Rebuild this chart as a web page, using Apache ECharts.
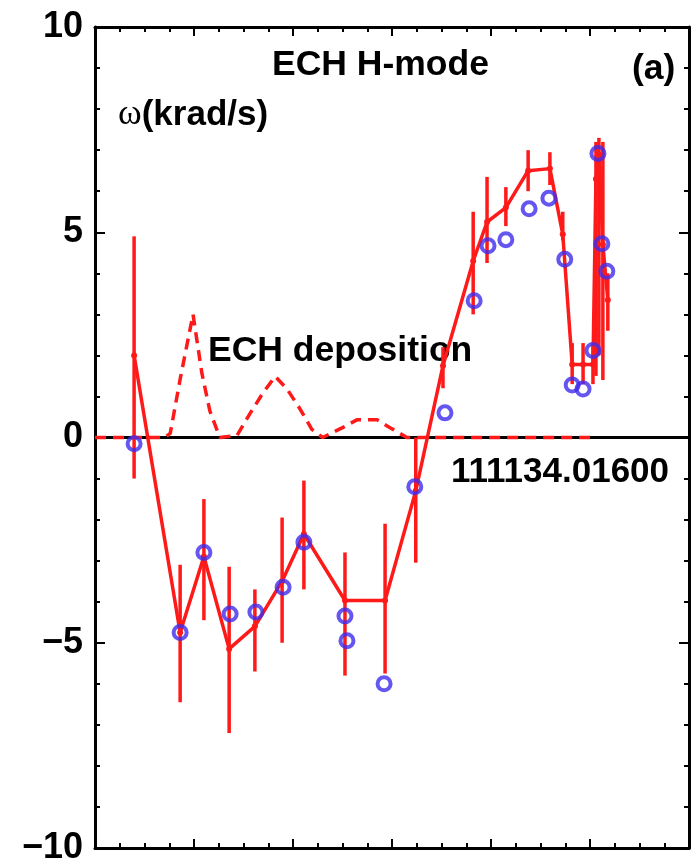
<!DOCTYPE html>
<html>
<head>
<meta charset="utf-8">
<script src="https://cdn.jsdelivr.net/npm/echarts@6/dist/echarts.min.js"></script>
<style>
html,body{margin:0;padding:0;background:#fff;}
#chart{width:695px;height:866px;}
</style>
</head>
<body>
<div id="chart"></div>
<script>
// ---- data ----
var yTicks = [-10, -5, 0, 5, 10];

// measured rotation (red, with error bars)
var redX  = [0.079, 0.172, 0.220, 0.271, 0.323, 0.378, 0.422, 0.505, 0.586, 0.648, 0.703, 0.764, 0.792, 0.830, 0.875, 0.919, 0.945, 0.964, 0.986, 1.006, 1.012, 1.018, 1.026, 1.036];
var redY  = [2.0, -4.75, -2.9, -5.15, -4.6, -3.5, -2.35, -3.97, -3.97, -1.3, 1.75, 4.3, 5.25, 5.6, 6.5, 6.55, 4.95, 1.78, 1.78, 1.78, 6.3, 6.9, 4.7, 3.35];
var redLo = [-1.0, -6.45, -4.45, -7.2, -5.7, -5.0, -3.7, -5.8, -5.75, -3.05, 1.2, 3.0, 4.25, 5.15, 6.0, 6.15, 4.8, 1.3, 1.3, 1.3, 1.5, 2.0, 1.4, 2.6];
var redHi = [4.9, -3.1, -1.5, -3.15, -3.7, -1.95, -1.05, -2.8, -2.1, 0.0, 2.2, 5.5, 6.35, 6.1, 7.0, 6.95, 5.5, 2.3, 2.3, 2.3, 7.2, 7.3, 7.2, 4.0];

// model (blue open circles)
var blueX = [0.079, 0.172, 0.220, 0.273, 0.325, 0.380, 0.422, 0.505, 0.509, 0.584, 0.646, 0.707, 0.766, 0.794, 0.830, 0.877, 0.917, 0.949, 0.964, 0.986, 1.006, 1.016, 1.024, 1.034];
var blueY = [-0.15, -4.75, -2.8, -4.3, -4.25, -3.65, -2.55, -4.35, -4.95, -6.0, -1.2, 0.6, 3.33, 4.67, 4.82, 5.57, 5.83, 4.34, 1.28, 1.18, 2.12, 6.92, 4.72, 4.05];

// ECH deposition profile (dashed)
var echX = [0, 0.141, 0.152, 0.172, 0.198, 0.216, 0.232, 0.252, 0.287, 0.313, 0.339, 0.364, 0.388, 0.414, 0.438, 0.46, 0.5, 0.529, 0.57, 0.596, 0.63, 1.0];
var echY = [0, 0, 0.1, 1.42, 3.0, 1.56, 0.65, 0, 0.05, 0.58, 1.08, 1.49, 1.18, 0.7, 0.2, 0, 0.24, 0.43, 0.43, 0.24, 0, 0];

var zeroX = [0, 1.2];
var zeroY = [0, 0];

// ---- build ----
function pairs(xs, ys){ return xs.map(function(x,i){ return [x, ys[i]]; }); }
var RED = '#ff1a1a', BLUE = '#3f2cec';
var FONT = "'Liberation Sans', Arial, Helvetica, sans-serif";

var xBase = {
  type: 'value', min: 0, max: 1.2, interval: 0.2,
  axisLine: { show: true, onZero: false, lineStyle: { color: '#000', width: 3 } },
  axisTick: { show: true, inside: true, length: 9, lineStyle: { color: '#000', width: 2 } },
  minorTick: { show: true, splitNumber: 4, length: 5, lineStyle: { color: '#000', width: 2 } },
  axisLabel: { show: false },
  splitLine: { show: false }
};
var yBase = {
  type: 'value', min: -10, max: 10, interval: 5,
  axisLine: { show: true, onZero: false, lineStyle: { color: '#000', width: 3 } },
  axisTick: { show: true, inside: true, length: 10, lineStyle: { color: '#000', width: 2 } },
  minorTick: { show: true, splitNumber: 5, length: 5, lineStyle: { color: '#000', width: 2 } },
  splitLine: { show: false }
};

var chart = echarts.init(document.getElementById('chart'), null, { renderer: 'canvas' });
chart.setOption({
  animation: false,
  backgroundColor: '#fff',
  grid: { left: 95, top: 27, width: 594, height: 830, containLabel: false },
  xAxis: [
    Object.assign({}, xBase, { position: 'bottom' }),
    Object.assign({}, xBase, { position: 'top' })
  ],
  yAxis: [
    Object.assign({}, yBase, {
      position: 'left',
      axisLabel: {
        show: true, margin: 12, color: '#000',
        fontFamily: FONT, fontWeight: 'bold', fontSize: 36,
        customValues: yTicks,
        formatter: function(v){ return v < 0 ? '\u2212' + Math.abs(v) : String(v); }
      }
    }),
    Object.assign({}, yBase, { position: 'right', axisLabel: { show: false } })
  ],
  series: [
    {
      type: 'line', data: pairs(zeroX, zeroY), showSymbol: false, silent: true,
      lineStyle: { color: '#000', width: 3 }, z: 1
    },
    {
      type: 'line', data: pairs(echX, echY), showSymbol: false, silent: true,
      lineStyle: { color: RED, width: 3.5, type: [11, 7] }, z: 2
    },
    {
      type: 'custom', z: 3, silent: true,
      data: redX.map(function(x,i){ return [x, redLo[i], redHi[i]]; }),
      encode: { x: 0, y: [1, 2] },
      renderItem: function(params, api){
        var p1 = api.coord([api.value(0), api.value(1)]);
        var p2 = api.coord([api.value(0), api.value(2)]);
        return { type: 'line', shape: { x1: p1[0], y1: p1[1], x2: p2[0], y2: p2[1] },
                 style: { stroke: RED, lineWidth: 3.5 } };
      }
    },
    {
      type: 'line', data: pairs(redX, redY), symbol: 'circle', symbolSize: 6, silent: true,
      itemStyle: { color: RED }, lineStyle: { color: RED, width: 3.5 }, z: 4
    },
    {
      type: 'scatter', data: pairs(blueX, blueY), symbol: 'circle', symbolSize: 13, silent: true,
      itemStyle: { color: 'rgba(0,0,0,0)', borderColor: BLUE, borderWidth: 4 }, z: 5
    }
  ],
  graphic: [
    { type: 'text', left: 272, top: 47, style: { text: 'ECH H-mode', font: 'bold 35.5px ' + FONT, fill: '#000' } },
    { type: 'text', left: 632, top: 51, style: { text: '(a)', font: 'bold 35.5px ' + FONT, fill: '#000' } },
    { type: 'text', left: 118, top: 97, style: {
        text: '{w|ω}{b|(krad/s)}',
        rich: {
          w: { font: 'normal 36px "Liberation Serif", "DejaVu Serif", serif', fill: '#000' },
          b: { font: 'bold 35px ' + FONT, fill: '#000' }
        } } },
    { type: 'text', left: 208, top: 333, style: { text: 'ECH deposition', font: 'bold 35.5px ' + FONT, fill: '#000' } },
    { type: 'text', left: 451, top: 455, style: { text: '111134.01600', font: 'bold 35px ' + FONT, fill: '#000' } }
  ]
});
</script>
</body>
</html>
